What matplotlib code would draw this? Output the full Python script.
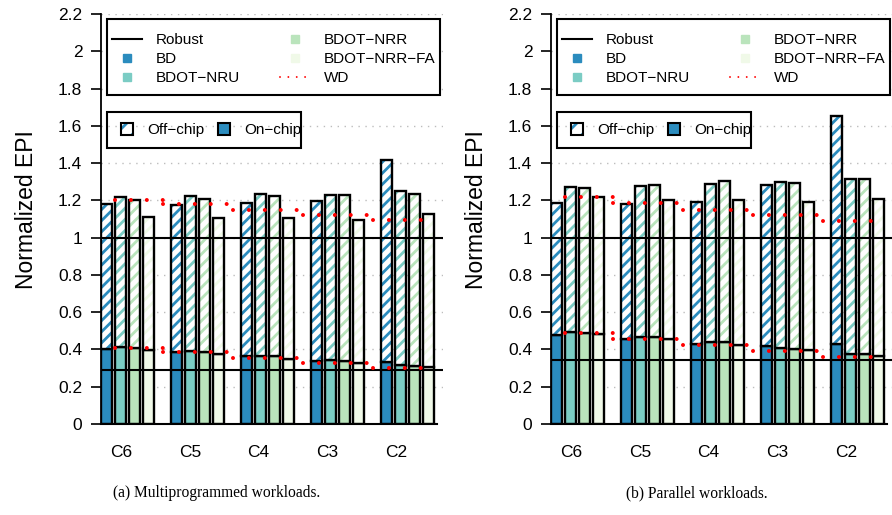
import matplotlib
matplotlib.use("Agg")
import numpy as np
import matplotlib.pyplot as plt
from matplotlib.lines import Line2D
from matplotlib.patches import Patch, Rectangle
from matplotlib.ticker import FormatStrFormatter

plt.rcParams['font.family'] = ['Liberation Sans', 'DejaVu Sans']
plt.rcParams['hatch.linewidth'] = 2.0

groups = ["C6", "C5", "C4", "C3", "C2"]
series = ["BD", "BDOT\u2212NRU", "BDOT\u2212NRR", "BDOT\u2212NRR\u2212FA"]
colors = ["#2b8cbe", "#7bccc4", "#bae4bc", "#f0f9e8"]

# multiprogrammed workloads: total EPI and on-chip part, one row per scheme
mp_total = [
    [1.178, 1.175, 1.187, 1.196, 1.418],
    [1.219, 1.223, 1.232, 1.228, 1.249],
    [1.201, 1.207, 1.223, 1.228, 1.235],
    [1.112, 1.103, 1.103, 1.096, 1.128],
]
mp_onchip = [
    [0.404, 0.386, 0.363, 0.336, 0.331],
    [0.413, 0.390, 0.367, 0.341, 0.315],
    [0.410, 0.388, 0.365, 0.337, 0.313],
    [0.395, 0.377, 0.351, 0.327, 0.305],
]
mp_wd_total = [1.203, 1.182, 1.150, 1.122, 1.096]
mp_wd_onchip = [0.410, 0.386, 0.356, 0.327, 0.299]
mp_robust_onchip = 0.292

# parallel workloads
par_total = [
    [1.187, 1.178, 1.191, 1.285, 1.655],
    [1.272, 1.276, 1.290, 1.299, 1.317],
    [1.267, 1.280, 1.303, 1.294, 1.312],
    [1.217, 1.201, 1.200, 1.191, 1.210],
]
par_onchip = [
    [0.480, 0.457, 0.429, 0.416, 0.427],
    [0.491, 0.466, 0.438, 0.410, 0.374],
    [0.490, 0.468, 0.439, 0.404, 0.377],
    [0.484, 0.454, 0.424, 0.395, 0.365],
]
par_wd_total = [1.219, 1.184, 1.147, 1.121, 1.089]
par_wd_onchip = [0.486, 0.457, 0.424, 0.391, 0.359]
par_robust_onchip = 0.346

robust_total = 1.0
yticks = np.round(np.arange(0, 2.21, 0.2), 1)

EDGE = 1.7
WD_STYLE = dict(color="red", lw=2.9, ls=(0, (0.001, 3.95)), dash_capstyle="round", zorder=6)


def draw_panel(ax, total, onchip, wd_total, wd_onchip, robust_onchip):
    gx = np.arange(len(groups)) * 5
    for i in range(len(series)):
        x = gx + i + 0.42
        on = np.array(onchip[i])
        off = np.array(total[i]) - on
        ax.bar(x, on, 0.8, color=colors[i], edgecolor="black", lw=EDGE, zorder=2)
        ax.bar(x, off, 0.8, bottom=on, color="white", edgecolor=colors[i],
               hatch="///", lw=0, zorder=2)
        ax.bar(x, off, 0.8, bottom=on, fill=False, edgecolor="black", lw=EDGE, zorder=3)

    # grey dotted grid behind everything
    for v in yticks[1:]:
        ax.axhline(v, color="#bdbdbd", lw=1.0, ls=(0, (1, 4)), zorder=0.5)

    ax.axhline(robust_total, color="black", lw=1.5, zorder=4)
    ax.axhline(robust_onchip, color="black", lw=1.5, zorder=4)

    # WD: one dotted segment per group, stepping down across the gaps
    for g in range(len(groups)):
        x0 = 1.0 if g == 0 else 5 * g - 0.55
        x1 = 4.4 if g == 0 else (22.9 if g == len(groups) - 1 else 5 * g + 4.05)
        ax.plot([x0, x1], [wd_total[g]] * 2, **WD_STYLE)
        ax.plot([x0, x1], [wd_onchip[g]] * 2, **WD_STYLE)

    ax.set_xlim(0, 342 / 14)
    ax.set_ylim(0, 2.2)
    ax.set_yticks(yticks)
    ax.yaxis.set_major_formatter(FormatStrFormatter("%g"))
    ax.set_xticks(1.45 + 4.9 * np.arange(len(groups)))
    ax.set_xticklabels(groups)
    ax.tick_params(axis="y", length=7.5, width=1.2, pad=6, labelsize=12.5)
    ax.tick_params(axis="x", length=0, pad=15, labelsize=12.5)
    for s in ["top", "right"]:
        ax.spines[s].set_visible(False)
    ax.spines["left"].set_linewidth(1.3)
    ax.spines["bottom"].set_linewidth(1.5)
    ax.spines["bottom"].set_bounds(0, 24)
    ax.set_ylabel("Normalized EPI", fontsize=16.5)
    ax.yaxis.set_label_coords(-0.184, 0.522)

    # legend boxes
    ax.add_patch(Rectangle((0.0184, 0.8024), 0.9728, 0.1847, transform=ax.transAxes,
                           facecolor="white", edgecolor="black", lw=1.5, zorder=7,
                           clip_on=False))
    ax.add_patch(Rectangle((0.0184, 0.6724), 0.5664, 0.0893, transform=ax.transAxes,
                           facecolor="none", edgecolor="black", lw=1.5, zorder=7,
                           clip_on=False))

    h1 = [Line2D([], [], color="black", lw=1.5)]
    h1 += [Line2D([], [], ls="none", marker="s", ms=5.3, mfc=c, mec=c) for c in colors]
    h1 += [Line2D([], [], color="red", lw=1.4, ls=(0, (0.001, 4.3)), dash_capstyle="round")]
    l1 = ax.legend(h1, ["Robust"] + series + ["WD"], ncol=2, mode="expand", loc="center",
                   bbox_to_anchor=(0.0184, 0.7974, 0.9728, 0.1847), frameon=False,
                   fontsize=11, borderpad=0.29, borderaxespad=0, labelspacing=0.32,
                   handlelength=1.96, handletextpad=0.94)
    l1.set_zorder(8)
    ax.add_artist(l1)

    off_h = (Patch(facecolor="white", edgecolor=colors[0], hatch="//", lw=0),
             Patch(fill=False, edgecolor="black", lw=1.5))
    on_h = Patch(facecolor=colors[0], edgecolor="black", lw=1.5)
    l2 = ax.legend([off_h, on_h], ["Off\u2212chip", "On\u2212chip"], ncol=2,
                   loc="center left", bbox_to_anchor=(0.0576, 0.7171), frameon=False,
                   fontsize=11, borderpad=0, borderaxespad=0, handlelength=0.8,
                   handleheight=0.8, handletextpad=0.92, columnspacing=0.92)
    l2.set_zorder(8)


fig = plt.figure(figsize=(8.92, 5.15), dpi=100)
ax_a = fig.add_axes([101 / 892, 91 / 515, 342 / 892, 410 / 515])
ax_b = fig.add_axes([551 / 892, 91 / 515, 342 / 892, 410 / 515])

draw_panel(ax_a, mp_total, mp_onchip, mp_wd_total, mp_wd_onchip, mp_robust_onchip)
draw_panel(ax_b, par_total, par_onchip, par_wd_total, par_wd_onchip, par_robust_onchip)

fig.text(217 / 892, 22 / 515, "(a) Multiprogrammed workloads.", ha="center", va="center",
         family="Liberation Serif", fontsize=11.2)
fig.text(697 / 892, 22 / 515, "(b) Parallel workloads.", ha="center", va="center",
         family="Liberation Serif", fontsize=11.2)

fig.savefig("out.png", dpi=100)
